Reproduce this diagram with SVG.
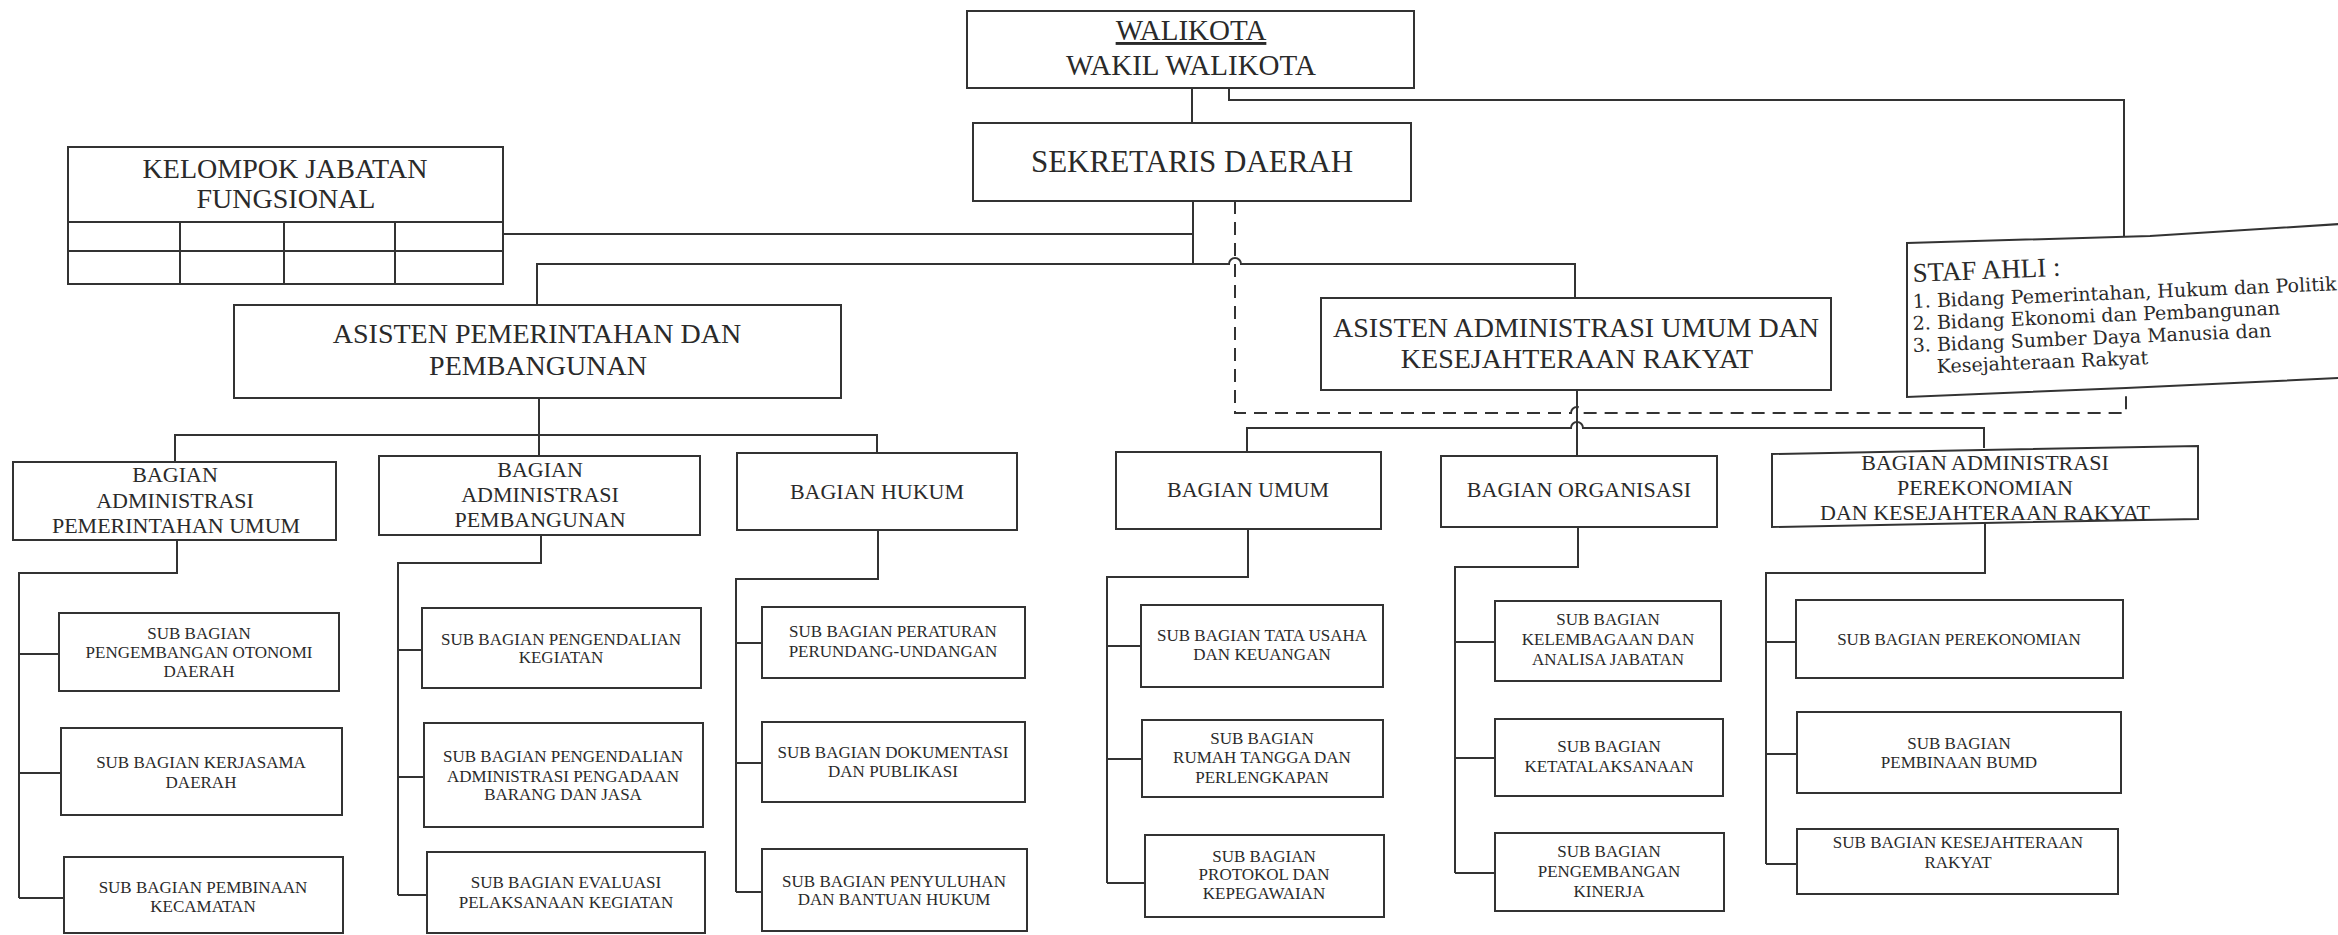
<svg xmlns="http://www.w3.org/2000/svg" width="2338" height="935" viewBox="0 0 2338 935">
<style>
.bx{fill:#fff;stroke:#333;stroke-width:2}
.ln{fill:none;stroke:#333;stroke-width:2}
.ds{fill:none;stroke:#333;stroke-width:2;stroke-dasharray:13 8}
text{font-family:"Liberation Serif","Times New Roman",serif;fill:#2a2a2a;text-anchor:middle}
.f31{font-size:31px}.f29{font-size:29px}.f28{font-size:28px}.f22{font-size:22px}.f17{font-size:17px}
.st{text-anchor:start;font-size:19px;font-family:"DejaVu Serif","Liberation Serif",serif}
</style>
<rect width="2338" height="935" fill="#fff"/>
<g id="connectors">
<path class="ln" d="M1192 88V123"/>
<path class="ln" d="M1229 88V100H2124V240"/>
<path class="ln" d="M503 234H1193"/>
<path class="ln" d="M1193 200V264"/>
<path class="ln" d="M537 306V264H1229A6 6 0 0 1 1241 264H1575V299"/>
<path class="ds" d="M1235 201V413H1571A6 6 0 0 1 1583 413H2126V390"/>
<path class="ln" d="M539 398V456"/>
<path class="ln" d="M175 462V435H877V453"/>
<path class="ln" d="M1577 390V456"/>
<path class="ln" d="M1247 452V428H1571A6 6 0 0 1 1583 428H1984V448"/>
<path class="ln" d="M177 540V573H19V898"/>
<path class="ln" d="M19 654H59M19 773H61M19 898H64"/>
<path class="ln" d="M541 535V563H398V895"/>
<path class="ln" d="M398 650H422M398 777H424M398 895H427"/>
<path class="ln" d="M878 530V579H736V892"/>
<path class="ln" d="M736 643H762M736 763H762M736 892H762"/>
<path class="ln" d="M1248 529V577H1107V883"/>
<path class="ln" d="M1107 646H1141M1107 759H1142M1107 883H1145"/>
<path class="ln" d="M1578 527V567H1455V873"/>
<path class="ln" d="M1455 642H1495M1455 758H1495M1455 873H1495"/>
<path class="ln" d="M1985 522V573H1766V864"/>
<path class="ln" d="M1766 642H1796M1766 754H1797M1766 864H1797"/>
</g>
<g id="walikota">
<rect class="bx" x="967" y="11" width="447" height="77"/>
<text class="f29" x="1191" y="40" text-decoration="underline">WALIKOTA</text>
<text class="f29" x="1191" y="75">WAKIL WALIKOTA</text>
</g>
<g id="sekda">
<rect class="bx" x="973" y="123" width="438" height="78"/>
<text class="f31" x="1192" y="172">SEKRETARIS DAERAH</text>
</g>
<g id="kelompok">
<rect class="bx" x="68" y="147" width="435" height="137"/>
<path class="ln" d="M68 222H503M68 251H503M180 222V284M284 222V284M395 222V284"/>
<text class="f28" x="285" y="178">KELOMPOK JABATAN</text>
<text class="f28" x="286" y="208">FUNGSIONAL</text>
</g>
<g id="staf-ahli">
<polygon class="bx" points="1907,243 2150,236 2340,224 2340,378 2126,388 1907,397"/>
<text class="f28" x="1913" y="282" style="text-anchor:start;font-size:27px" transform="rotate(-2.4 1913 282)">STAF AHLI :</text>
<text class="st" x="1913" y="308" transform="rotate(-2.4 1913 308)">1. Bidang Pemerintahan, Hukum dan  Politik</text>
<text class="st" x="1913" y="330" transform="rotate(-2.4 1913 330)">2. Bidang Ekonomi dan Pembangunan</text>
<text class="st" x="1913" y="352" transform="rotate(-2.4 1913 352)">3. Bidang Sumber Daya Manusia dan</text>
<text class="st" x="1937" y="373" transform="rotate(-2.4 1937 373)">Kesejahteraan Rakyat</text>
</g>
<g id="asisten-pemerintahan">
<rect class="bx" x="234" y="305" width="607" height="93"/>
<text class="f28" x="537" y="343">ASISTEN PEMERINTAHAN DAN</text>
<text class="f28" x="538" y="375">PEMBANGUNAN</text>
</g>
<g id="asisten-administrasi">
<rect class="bx" x="1321" y="298" width="510" height="92"/>
<text class="f28" x="1576" y="337">ASISTEN ADMINISTRASI UMUM DAN</text>
<text class="f28" x="1577" y="368">KESEJAHTERAAN RAKYAT</text>
</g>
<g id="bagian-adm-pemerintahan">
<rect class="bx" x="13" y="462" width="323" height="78"/>
<text class="f22" x="175" y="482">BAGIAN</text>
<text class="f22" x="175" y="508">ADMINISTRASI</text>
<text class="f22" x="176" y="533">PEMERINTAHAN UMUM</text>
</g>
<g id="bagian-adm-pembangunan">
<rect class="bx" x="379" y="456" width="321" height="79"/>
<text class="f22" x="540" y="477">BAGIAN</text>
<text class="f22" x="540" y="502">ADMINISTRASI</text>
<text class="f22" x="540" y="527">PEMBANGUNAN</text>
</g>
<g id="bagian-hukum">
<rect class="bx" x="737" y="453" width="280" height="77"/>
<text class="f22" x="877" y="499">BAGIAN HUKUM</text>
</g>
<g id="bagian-umum">
<rect class="bx" x="1116" y="452" width="265" height="77"/>
<text class="f22" x="1248" y="497">BAGIAN UMUM</text>
</g>
<g id="bagian-organisasi">
<rect class="bx" x="1441" y="456" width="276" height="71"/>
<text class="f22" x="1579" y="497">BAGIAN ORGANISASI</text>
</g>
<g id="bagian-perekonomian">
<polygon class="bx" points="1772,454 2198,446 2198,519 1772,527"/>
<text class="f22" x="1985" y="470">BAGIAN ADMINISTRASI</text>
<text class="f22" x="1985" y="495">PEREKONOMIAN</text>
<text class="f22" x="1985" y="520">DAN KESEJAHTERAAN RAKYAT</text>
</g>
<g id="sub-otonomi">
<rect class="bx" x="59" y="613" width="280" height="78"/>
<text class="f17" x="199" y="639">SUB BAGIAN</text>
<text class="f17" x="199" y="658">PENGEMBANGAN OTONOMI</text>
<text class="f17" x="199" y="677">DAERAH</text>
</g>
<g id="sub-kerjasama">
<rect class="bx" x="61" y="728" width="281" height="87"/>
<text class="f17" x="201" y="768">SUB BAGIAN KERJASAMA</text>
<text class="f17" x="201" y="788">DAERAH</text>
</g>
<g id="sub-kecamatan">
<rect class="bx" x="64" y="857" width="279" height="76"/>
<text class="f17" x="203" y="893">SUB BAGIAN PEMBINAAN</text>
<text class="f17" x="203" y="912">KECAMATAN</text>
</g>
<g id="sub-pengendalian-kegiatan">
<rect class="bx" x="422" y="608" width="279" height="80"/>
<text class="f17" x="561" y="645">SUB BAGIAN PENGENDALIAN</text>
<text class="f17" x="561" y="663">KEGIATAN</text>
</g>
<g id="sub-pengadaan">
<rect class="bx" x="424" y="723" width="279" height="104"/>
<text class="f17" x="563" y="762">SUB BAGIAN PENGENDALIAN</text>
<text class="f17" x="563" y="782">ADMINISTRASI PENGADAAN</text>
<text class="f17" x="563" y="800">BARANG DAN  JASA</text>
</g>
<g id="sub-evaluasi">
<rect class="bx" x="427" y="852" width="278" height="81"/>
<text class="f17" x="566" y="888">SUB BAGIAN EVALUASI</text>
<text class="f17" x="566" y="908">PELAKSANAAN KEGIATAN</text>
</g>
<g id="sub-peraturan">
<rect class="bx" x="762" y="607" width="263" height="71"/>
<text class="f17" x="893" y="637">SUB BAGIAN PERATURAN</text>
<text class="f17" x="893" y="657">PERUNDANG-UNDANGAN</text>
</g>
<g id="sub-dokumentasi">
<rect class="bx" x="762" y="722" width="263" height="80"/>
<text class="f17" x="893" y="758">SUB BAGIAN DOKUMENTASI</text>
<text class="f17" x="893" y="777">DAN PUBLIKASI</text>
</g>
<g id="sub-penyuluhan">
<rect class="bx" x="762" y="849" width="265" height="82"/>
<text class="f17" x="894" y="887">SUB BAGIAN PENYULUHAN</text>
<text class="f17" x="894" y="905">DAN BANTUAN HUKUM</text>
</g>
<g id="sub-tata-usaha">
<rect class="bx" x="1141" y="605" width="242" height="82"/>
<text class="f17" x="1262" y="641">SUB BAGIAN TATA USAHA</text>
<text class="f17" x="1262" y="660">DAN KEUANGAN</text>
</g>
<g id="sub-rumah-tangga">
<rect class="bx" x="1142" y="720" width="241" height="77"/>
<text class="f17" x="1262" y="744">SUB BAGIAN</text>
<text class="f17" x="1262" y="763">RUMAH TANGGA DAN</text>
<text class="f17" x="1262" y="783">PERLENGKAPAN</text>
</g>
<g id="sub-protokol">
<rect class="bx" x="1145" y="835" width="239" height="82"/>
<text class="f17" x="1264" y="862">SUB BAGIAN</text>
<text class="f17" x="1264" y="880">PROTOKOL DAN</text>
<text class="f17" x="1264" y="899">KEPEGAWAIAN</text>
</g>
<g id="sub-kelembagaan">
<rect class="bx" x="1495" y="601" width="226" height="80"/>
<text class="f17" x="1608" y="625">SUB BAGIAN</text>
<text class="f17" x="1608" y="645">KELEMBAGAAN DAN</text>
<text class="f17" x="1608" y="665">ANALISA JABATAN</text>
</g>
<g id="sub-ketatalaksanaan">
<rect class="bx" x="1495" y="719" width="228" height="77"/>
<text class="f17" x="1609" y="752">SUB BAGIAN</text>
<text class="f17" x="1609" y="772">KETATALAKSANAAN</text>
</g>
<g id="sub-kinerja">
<rect class="bx" x="1495" y="833" width="229" height="78"/>
<text class="f17" x="1609" y="857">SUB BAGIAN</text>
<text class="f17" x="1609" y="877">PENGEMBANGAN</text>
<text class="f17" x="1609" y="897">KINERJA</text>
</g>
<g id="sub-perekonomian">
<rect class="bx" x="1796" y="600" width="327" height="78"/>
<text class="f17" x="1959" y="645">SUB BAGIAN PEREKONOMIAN</text>
</g>
<g id="sub-bumd">
<rect class="bx" x="1797" y="712" width="324" height="81"/>
<text class="f17" x="1959" y="749">SUB BAGIAN</text>
<text class="f17" x="1959" y="768">PEMBINAAN BUMD</text>
</g>
<g id="sub-kesejahteraan">
<rect class="bx" x="1797" y="829" width="321" height="65"/>
<text class="f17" x="1958" y="848">SUB BAGIAN KESEJAHTERAAN</text>
<text class="f17" x="1958" y="868">RAKYAT</text>
</g>
</svg>
